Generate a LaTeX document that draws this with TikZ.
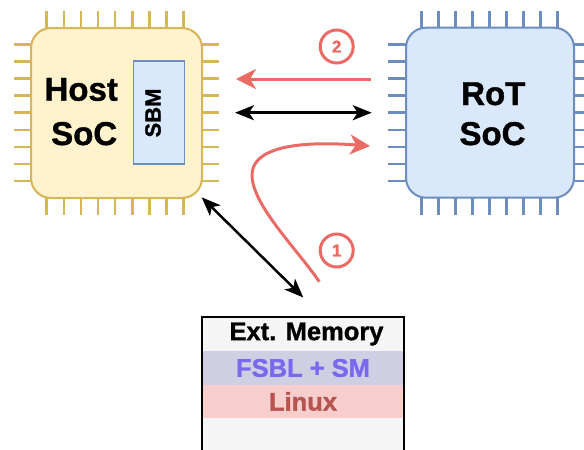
\documentclass[tikz,border=0pt]{standalone}
\usepackage{fontspec}
\setmainfont{Liberation Sans}
\newfontfamily\heavyfont{Liberation Sans Bold}[FakeBold=1.2]
\usetikzlibrary{arrows.meta}
\definecolor{hostfill}{HTML}{FFF2CC}
\definecolor{hoststroke}{HTML}{D6B656}
\definecolor{rotfill}{HTML}{DAE8FC}
\definecolor{rotstroke}{HTML}{6C8EBF}
\definecolor{redarrow}{HTML}{EA6B66}
\definecolor{memgray}{HTML}{F5F5F5}
\definecolor{fsblfill}{HTML}{D0CEE2}
\definecolor{fsbltext}{HTML}{7B68EE}
\definecolor{linuxfill}{HTML}{F8CECC}
\definecolor{linuxtext}{HTML}{B85450}
\begin{document}
\begin{tikzpicture}[x=1pt,y=-1pt,
  chip/.style={draw, line width=2pt, rounded corners=20pt, inner sep=0pt},
  pinline/.style={line width=2.6pt},
  bigtext/.style={font=\heavyfont\fontsize{33}{38}\selectfont, inner sep=0pt, anchor=base},
  blackarr/.style={{Stealth[length=19pt,width=15pt,inset=5pt]}-{Stealth[length=19pt,width=15pt,inset=5pt]}, line width=2.5pt, black},
  redarr/.style={-{Stealth[length=20pt,width=20pt,inset=6pt]}, line width=3pt, redarrow},
  numcircle/.style={circle, draw=redarrow, line width=3pt, minimum size=33pt, inner sep=0pt, text=redarrow, font=\heavyfont\fontsize{17}{17}\selectfont},
  memtext/.style={font=\heavyfont\fontsize{25.5}{28}\selectfont, inner sep=0pt}
]
\clip (0,0) rectangle (584,450);

% Host pins
\foreach \k in {0,...,8} {
  \pgfmathsetmacro{\px}{46.7+17.1*\k}
  \pgfmathsetmacro{\py}{44.3+17.1*\k}
  \draw[pinline, hoststroke] (\px,11) -- (\px,30);
  \draw[pinline, hoststroke] (\px,196) -- (\px,215);
  \draw[pinline, hoststroke] (14,\py) -- (33,\py);
  \draw[pinline, hoststroke] (200,\py) -- (219,\py);
}
% RoT pins
\foreach \k in {0,...,8} {
  \pgfmathsetmacro{\px}{421.7+17*\k}
  \pgfmathsetmacro{\py}{44.3+17.1*\k}
  \draw[pinline, rotstroke] (\px,11) -- (\px,30);
  \draw[pinline, rotstroke] (\px,196) -- (\px,215);
  \draw[pinline, rotstroke] (388,\py) -- (408,\py);
  \draw[pinline, rotstroke] (572,\py) -- (592,\py);
}

% chips
\node[chip, draw=hoststroke, fill=hostfill, minimum width=171pt, minimum height=170pt] (host) at (116.5,113) {};
\node[chip, draw=rotstroke, fill=rotfill, minimum width=168pt, minimum height=170pt] (rot) at (490,112.7) {};

\node[bigtext] (hostl1) at (81.2,100.7) {Host};
\node[bigtext] (hostl2) at (84.2,145) {SoC};
\node[bigtext] (rotl1) at (493.3,105) {RoT};
\node[bigtext] (rotl2) at (492.5,145) {SoC};

\node[draw=rotstroke, fill=rotfill, line width=1.5pt, minimum width=51pt, minimum height=103pt, inner sep=0pt] (sbm) at (158.8,112.7) {};
\node[rotate=90, font=\heavyfont\fontsize{22}{24}\selectfont, inner sep=0pt] (sbml) at (153,113) {SBM};

% memory
\fill[memgray] (202,317) rectangle (404,460);
\fill[fsblfill] (202,351) rectangle (404,385);
\fill[linuxfill] (202,385) rectangle (404,418);
\draw[line width=2.5pt] (202,460) -- (202,317) -- (404,317) -- (404,460);
\node[memtext] (memhead) at (306.5,334) {Ext. Memory};
\node[memtext, text=fsbltext] (fsbl) at (303,368) {FSBL + SM};
\node[memtext, text=linuxtext] (linux) at (303,401.5) {Linux};

% connectors
\coordinate (r2s) at (371,79);
\coordinate (r2e) at (236,79);
\coordinate (bls) at (235,112.7);
\coordinate (ble) at (371.7,112.7);
\coordinate (r1s) at (319.3,281.7);
\coordinate (r1m) at (252,175);
\coordinate (r1e) at (370,146);
\coordinate (dgs) at (201.7,197.3);
\coordinate (dge) at (303.3,297.5);

\draw[redarr] (r2s) -- (r2e);
\draw[blackarr] (bls) -- (ble);
\draw[redarr] (r1s) .. controls (297,249) and (252,205) .. (r1m) .. controls (252,150) and (290,140) .. (r1e);
\draw[blackarr] (dgs) -- (dge);

\node[numcircle] (c2) at (336.7,46.5) {2};
\node[numcircle] (c1) at (336.7,250.5) {1};
\end{tikzpicture}
\end{document}
